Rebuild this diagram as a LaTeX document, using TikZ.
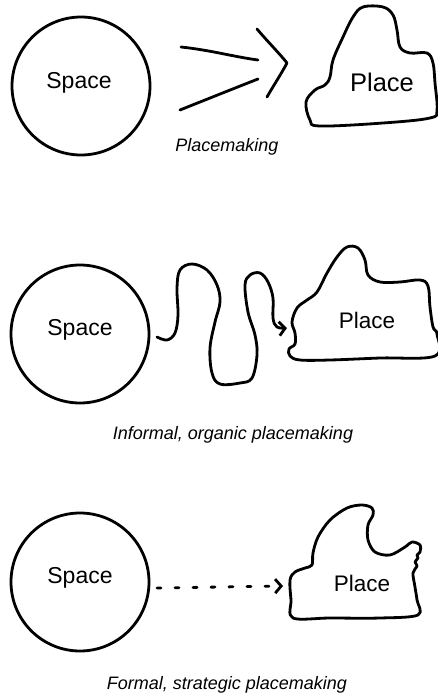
\documentclass[tikz,border=0pt]{standalone}
\usepackage{fontspec}
\setmainfont{Liberation Sans}
\usetikzlibrary{arrows.meta}

\tikzset{
  sketch/.style={line width=2.8pt, line cap=round, line join=round},
  spacenode/.style={circle, draw, sketch, minimum size=138pt, inner sep=0pt},
  placenode/.style={inner sep=0pt, font=\fontsize{22.5}{26}\selectfont},
  spacetext/.style={inner sep=0pt, font=\fontsize{23}{27}\selectfont},
  caption/.style={font=\fontsize{18}{22}\selectfont\itshape},
  barb/.style={-{Straight Barb[length=6pt, width=14pt, line width=2.8pt]}}
}

\begin{document}
\begin{tikzpicture}[x=1pt, y=-1pt]

    % Frame
    \useasboundingbox (0,0) rectangle (438,694);

    % --- Placemaking ---
    \node[spacenode] (space1) at (81,86) {};
    \node[spacetext] (spacetxt1) at (79,83) {Space};
    \draw[sketch] plot[smooth cycle, tension=0.6] coordinates {
      (320,126) (310,120) (306,102) (315,90) (325,85) (330,77) (333,60)
      (343,37) (353,17) (363,7) (383,7) (393,15) (397,30) (400,47)
      (410,53) (427,53) (433,63) (435,83) (437,110) (430,118) (383,123)};
    \node[placenode, font=\fontsize{25.5}{30}\selectfont] (place1) at (382,82) {Place};

    % converging strokes
    \coordinate (a1) at (181,47);
    \coordinate (a2) at (258,60);
    \coordinate (b1) at (180,110);
    \coordinate (b2) at (258,79);
    \draw[sketch] (a1) .. controls (210,50) and (235,57) .. (a2);
    \draw[sketch] (b1) .. controls (205,100) and (235,88) .. (b2);
    \draw[sketch] (257,29) .. controls (268,42) and (280,54) .. (287,63)
                  .. controls (280,76) and (272,88) .. (267,97);

    \node[caption] (lab1) at (227,147) {Placemaking};

    % --- Informal ---
    \node[spacenode] (space2) at (80,334) {};
    \node[spacetext] (spacetxt2) at (80,330) {Space};
    \draw[sketch] plot[smooth cycle, tension=0.6] coordinates {
      (300,360) (290,356) (289,349) (295,344) (295,333) (292,322) (297,308)
      (307,300) (317,292) (327,273) (337,257) (347,247) (358,248) (365,260)
      (368,275) (380,282) (400,282) (420,280) (428,286) (430,307) (433,327)
      (437,334) (435,356) (380,358) (330,360)};
    \node[placenode] (place2) at (367,320) {Place};

    \coordinate (w0) at (157,337);
    \coordinate (w1) at (287,328);
    \draw[sketch, barb] plot[smooth, tension=0.6] coordinates {
      (w0) (167,340) (175,333) (178,315) (177,288) (180,270) (192,264)
      (207,270) (217,285) (220,302) (215,322) (210,348) (212,373) (220,384)
      (240,383) (252,378) (257,355) (255,335) (248,312) (245,285) (250,275)
      (260,273) (268,282) (273,298) (273,318) (277,327) (w1)};

    \node[caption] (lab2) at (233,435) {Informal, organic placemaking};

    % --- Formal ---
    \node[spacenode] (space3) at (80,582) {};
    \node[spacetext] (spacetxt3) at (80,578) {Space};
    \draw[sketch] plot[smooth cycle, tension=0.55] coordinates {
      (293,618) (291,600) (290,580) (295,572) (305,568) (312,565) (313,553)
      (318,537) (330,520) (347,508) (362,505) (372,508) (373,515) (368,525)
      (368,540) (375,552) (390,555) (405,547) (412,542) (420,545) (420,552)
      (417,555) (418,558) (415,562) (417,566) (413,573) (415,587) (417,600)
      (418,615) (380,618) (330,618)};
    \node[placenode] (place3) at (362,583) {Place};

    \coordinate (d0) at (157,588);
    \coordinate (d1) at (283,586);
    \draw[sketch, barb, dash pattern=on 4pt off 14pt] (d0) -- (d1);

    \node[caption] (lab3) at (227,685) {Formal, strategic placemaking};

\end{tikzpicture}
\end{document}
